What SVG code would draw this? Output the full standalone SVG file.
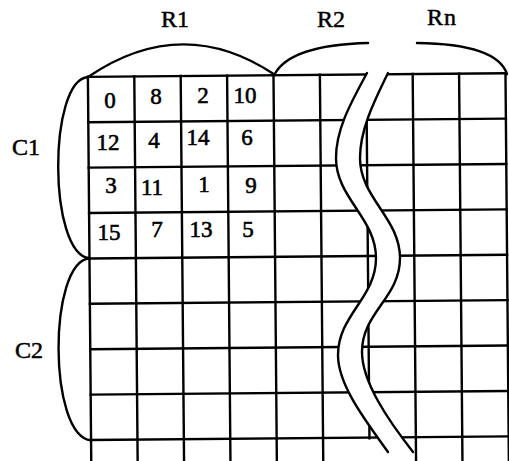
<svg xmlns="http://www.w3.org/2000/svg" width="509" height="461" viewBox="0 0 509 461">
<style>
.ln{fill:none;stroke:#000;stroke-width:2.4;stroke-linecap:square}
.br{fill:none;stroke:#000;stroke-width:2.4;stroke-linecap:round}
.num{font-family:"Liberation Serif","Times New Roman",serif;font-size:23px;fill:#000;stroke:#000;stroke-width:0.6;text-anchor:middle}
.lbl{font-family:"Liberation Serif","Times New Roman",serif;font-size:24px;fill:#000;stroke:#000;stroke-width:0.5;text-anchor:middle}
</style>
<rect width="509" height="461" fill="#fff"/>
<g id="grid" class="ln" transform="rotate(-0.5 298 260)">
<path d="M89.5,75V462M135.9,75V462M182.3,75V462M228.7,75V462M275.1,75V462M321.5,75V462M367.9,75V439M414.3,75V462M460.7,75V462M507.1,75V462"/>
<path d="M89.5,75H507.1M89.5,120.4H507.1M89.5,165.8H507.1M89.5,211.2H507.1M89.5,256.6H507.1M89.5,302H507.1M89.5,347.4H507.1M89.5,392.8H507.1M89.5,438.2H507.1"/>
</g>
<g id="break">
<path fill="#fff" stroke="none" d="M368.5,70 L367,73 C352,101 336,128 336,158 C336,198 376,218 376,258 C376,298 338,315 338,355 C338,385 365,420 388,452 L413,452 C388,420 362,382 362,352 C362,312 400,298 400,258 C400,218 360,198 360,158 C360,128 376,98 388,73 L389.5,70 Z"/>
<path class="br" d="M367,73 C352,101 336,128 336,158 C336,198 376,218 376,258 C376,298 338,315 338,355 C338,385 365,420 388,452"/>
<path class="br" d="M388,73 C376,98 360,128 360,158 C360,198 400,218 400,258 C400,298 362,312 362,352 C362,382 388,420 413,452"/>
</g>
<g id="braces">
<path id="brace-R1" class="br" d="M88,77 Q182,13 274.5,74.5"/>
<path id="brace-R2" class="br" d="M274.5,74.5 Q290,45 368,43"/>
<path id="brace-Rn" class="br" d="M417,43 Q497,44 507,74"/>
<path id="brace-C1" class="br" d="M88,77 C48,80 48,254 89.5,258.3"/>
<path id="brace-C2" class="br" d="M89.5,258.3 C48,262 48,436 91,440.3"/>
</g>
<g id="labels" class="lbl">
<text x="175" y="27">R1</text>
<text x="331" y="27">R2</text>
<text x="442" y="25" letter-spacing="1">Rn</text>
<text x="26" y="155">C1</text>
<text x="29" y="358">C2</text>
</g>
<g id="cells" class="num">
<text x="110" y="108">0</text>
<text x="156" y="104">8</text>
<text x="203" y="103">2</text>
<text x="245" y="103">10</text>
<text x="108" y="150">12</text>
<text x="154" y="148">4</text>
<text x="198" y="145">14</text>
<text x="247" y="145">6</text>
<text x="111" y="193">3</text>
<text x="152" y="195">11</text>
<text x="204" y="192">1</text>
<text x="251" y="193">9</text>
<text x="109" y="240">15</text>
<text x="157" y="237">7</text>
<text x="201" y="237">13</text>
<text x="248" y="237">5</text>
</g>
</svg>
